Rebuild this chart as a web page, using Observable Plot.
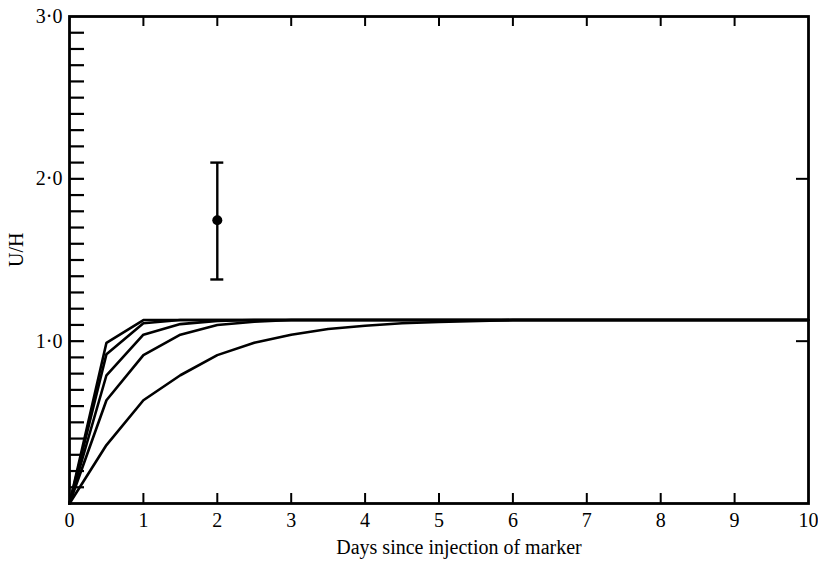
<!DOCTYPE html>
<html>
<head>
<meta charset="utf-8">
<script src="https://cdn.jsdelivr.net/npm/d3@7"></script>
<script src="https://cdn.jsdelivr.net/npm/@observablehq/plot@0.6"></script>
<style>
  html, body { margin: 0; padding: 0; background: #fff; }
  #chart svg { display: block; }
</style>
</head>
<body>
<div id="chart"></div>
<script>
// ---- data ----
const days = [0, 0.5, 1, 1.5, 2, 2.5, 3, 3.5, 4, 4.5, 5, 6, 7, 8, 9, 10];
const curve1 = [0, 0.99, 1.13, 1.13, 1.13, 1.13, 1.13, 1.13, 1.13, 1.13, 1.13, 1.13, 1.13, 1.13, 1.13, 1.13];
const curve2 = [0, 0.92, 1.11, 1.13, 1.13, 1.13, 1.13, 1.13, 1.13, 1.13, 1.13, 1.13, 1.13, 1.13, 1.13, 1.13];
const curve3 = [0, 0.79, 1.04, 1.105, 1.125, 1.13, 1.13, 1.13, 1.13, 1.13, 1.13, 1.13, 1.13, 1.13, 1.13, 1.13];
const curve4 = [0, 0.636, 0.914, 1.04, 1.10, 1.12, 1.13, 1.13, 1.13, 1.13, 1.13, 1.13, 1.13, 1.13, 1.13, 1.13];
const curve5 = [0, 0.36, 0.636, 0.79, 0.914, 0.99, 1.04, 1.075, 1.095, 1.11, 1.118, 1.13, 1.13, 1.13, 1.13, 1.13];
const seriesNames = ["curve1", "curve2", "curve3", "curve4", "curve5"];
const seriesValues = [curve1, curve2, curve3, curve4, curve5];

const obsDay = [2];
const obsMean = [1.745];
const obsLow = [1.38];
const obsHigh = [2.10];

const xTicks = [0, 1, 2, 3, 4, 5, 6, 7, 8, 9, 10];
const xInnerTicks = [1, 2, 3, 4, 5, 6, 7, 8, 9];
const yLabelTicks = [1, 2, 3];
const yMinorTicks = d3.range(1, 30).map(i => i / 10);
const yRightTicks = [1, 2];

const xLabel = "Days since injection of marker";
const yLabel = "U/H";

// ---- build tables ----
const lines = [];
seriesNames.forEach((name, si) => {
  days.forEach((d, i) => lines.push({series: name, day: d, value: seriesValues[si][i]}));
});
const obs = obsDay.map((d, i) => ({day: d, mean: obsMean[i], low: obsLow[i], high: obsHigh[i]}));

const W = 818, H = 571;
const mL = 69, mR = 10, mT = 16, mB = 68;
const pxX = (818 - mL - mR) / 10;   // px per day
const pxY = (571 - mT - mB) / 3;    // px per unit
const tickLenX = 10 / pxY;          // top/bottom tick length in data units
const tickLenY = 15 / pxX;          // left tick length in data units
const tickLenR = 12 / pxX;
const capHalf = 6.5 / pxX;
const font = "'Liberation Serif', 'DejaVu Serif', serif";
const fs = 20;
const fmtY = d => d.toFixed(1).replace(".", "\u00B7");

const chart = Plot.plot({
  width: W,
  height: H,
  marginLeft: mL,
  marginRight: mR,
  marginTop: mT,
  marginBottom: mB,
  style: {fontFamily: font, fontSize: fs + "px", color: "#000", background: "#fff"},
  x: {domain: [0, 10], axis: null},
  y: {domain: [0, 3], axis: null},
  marks: [
    // curves
    Plot.line(lines, {x: "day", y: "value", z: "series", stroke: "#000", strokeWidth: 2.6, strokeLinejoin: "miter"}),
    // inner ticks bottom & top
    Plot.ruleX(xInnerTicks, {x: d => d, y1: 0, y2: tickLenX, stroke: "#000", strokeWidth: 2}),
    Plot.ruleX(xInnerTicks, {x: d => d, y1: 3, y2: 3 - tickLenX, stroke: "#000", strokeWidth: 2}),
    // left minor ticks
    Plot.ruleY(yMinorTicks, {y: d => d, x1: 0, x2: tickLenY, stroke: "#000", strokeWidth: 2.2}),
    // right ticks
    Plot.ruleY(yRightTicks, {y: d => d, x1: 10, x2: 10 - tickLenR, stroke: "#000", strokeWidth: 2}),
    // error bar
    Plot.ruleX(obs, {x: "day", y1: "low", y2: "high", stroke: "#000", strokeWidth: 2.4}),
    Plot.ruleY(obs, {y: "low", x1: d => d.day - capHalf, x2: d => d.day + capHalf, stroke: "#000", strokeWidth: 2.4}),
    Plot.ruleY(obs, {y: "high", x1: d => d.day - capHalf, x2: d => d.day + capHalf, stroke: "#000", strokeWidth: 2.4}),
    Plot.dot(obs, {x: "day", y: "mean", r: 5, fill: "#000", stroke: "none"}),
    // frame
    Plot.frame({stroke: "#000", strokeWidth: 2.8}),
    // tick labels
    Plot.text(xTicks, {x: d => d, frameAnchor: "bottom", dy: 23, text: d => String(d), fontSize: fs, fill: "#000"}),
    Plot.text(yLabelTicks, {y: d => d, frameAnchor: "left", dx: -7, textAnchor: "end", text: fmtY, fontSize: fs, fill: "#000"}),
    // axis titles
    Plot.text([xLabel], {frameAnchor: "bottom", dx: 20, dy: 50, fontSize: fs, fill: "#000"}),
    Plot.text([yLabel], {frameAnchor: "left", rotate: -90, dx: -53, dy: 7, fontSize: fs, fill: "#000"})
  ]
});
document.getElementById("chart").appendChild(chart);
</script>
</body>
</html>
